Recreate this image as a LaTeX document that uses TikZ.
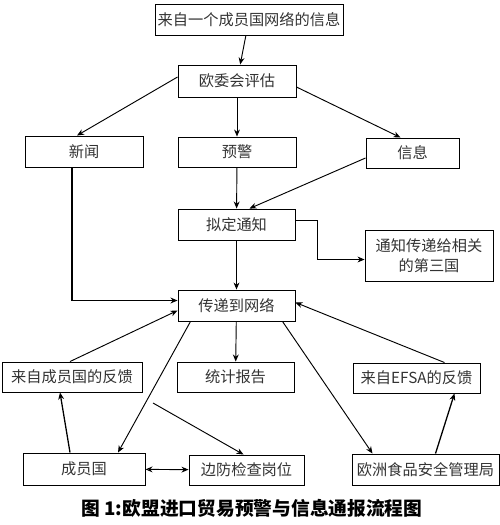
\documentclass[tikz,border=0pt]{standalone}
\usepackage{fontspec}
\setmainfont{Noto Sans CJK SC}
\usepackage{tikz}
\usetikzlibrary{arrows.meta}
\newlength{\unitpx}
\setlength{\unitpx}{0.03cm}

\begin{document}
\begin{tikzpicture}[x=0.03cm, y=-0.03cm,
    box/.style={draw, line width=0.8pt, align=center, inner sep=1pt,
        text=black!80, font=\fontsize{13}{17}\selectfont},
    flow/.style={line width=0.8pt, -{Stealth[length=6pt,width=5pt]}},
    flowb/.style={flow, line width=1.1pt}]
    \useasboundingbox (0,0) rectangle (500,525);

    % 1. The boxes, placed at the centres
    \node[box, minimum width=188\unitpx, minimum height=31\unitpx] (src) at (249,19.5) {来自一个成员国网络的信息};
    \node[box, minimum width=118\unitpx, minimum height=32\unitpx] (eval) at (237,81) {欧委会评估};
    \node[box, minimum width=118\unitpx, minimum height=31\unitpx] (news) at (84,151.5) {新闻};
    \node[box, minimum width=118\unitpx, minimum height=30\unitpx] (alert) at (237,152) {预警};
    \node[box, minimum width=93\unitpx, minimum height=30\unitpx] (info) at (412.5,153) {信息};
    \node[box, minimum width=117\unitpx, minimum height=31\unitpx] (draft) at (236.5,224.5) {拟定通知};
    \node[box, minimum width=128\unitpx, minimum height=51\unitpx] (third) at (429,255.5) {通知传递给相关\\的第三国};
    \node[box, minimum width=117\unitpx, minimum height=31\unitpx] (net) at (236.5,305.5) {传递到网络};
    \node[box, minimum width=140\unitpx, minimum height=30\unitpx] (fbms) at (72,377) {来自成员国的反馈};
    \node[box, minimum width=117\unitpx, minimum height=30\unitpx] (stat) at (235.5,377) {统计报告};
    \node[box, minimum width=127\unitpx, minimum height=30\unitpx] (fbefsa) at (416.5,378) {来自EFSA的反馈};
    \node[box, minimum width=122\unitpx, minimum height=32\unitpx] (ms) at (84,469) {成员国};
    \node[box, minimum width=115\unitpx, minimum height=30\unitpx] (border) at (246.5,470) {边防检查岗位};
    \node[box, minimum width=147\unitpx, minimum height=31\unitpx] (efsa) at (425.5,469.5) {欧洲食品安全管理局};
    \coordinate (bstart) at (153,403);

    % 2. Upper part of the flow
    \draw[flow] (src) -- (eval);
    \draw[flow] ([yshift=4\unitpx]eval.west) -- ([xshift=-7\unitpx]news.north);
    \draw[flow] (eval) -- (alert);
    \draw[flow] ([yshift=-6\unitpx]eval.east) -- ([xshift=-12\unitpx]info.north);
    \draw[flowb] ([xshift=-12\unitpx]news.south) |- ([yshift=5\unitpx]net.west);
    \draw[flow] (alert) -- (draft);
    \draw[flow] ([yshift=-5\unitpx]info.west) -- ([xshift=13\unitpx]draft.north);
    \draw[flow] ([yshift=4\unitpx]draft.east) -- ++(22,0) |- ([yshift=-4\unitpx]third.west);
    \draw[flow] (draft) -- (net);

    % 3. Lower part of the flow
    \draw[flow] ([xshift=-2\unitpx]fbms.north) -- ([yshift=-5\unitpx]net.west);
    \draw[flow] ([xshift=-46\unitpx]net.south) -- ([xshift=34\unitpx]ms.north);
    \draw[flow] (net) -- (stat);
    \draw[flow] ([xshift=46\unitpx]net.south) -- ([xshift=-53\unitpx]efsa.north);
    \draw[flow] ([xshift=28\unitpx]fbefsa.north) -- ([yshift=3\unitpx]net.east);
    \draw[flowb] ([xshift=-14\unitpx]ms.north) -- ([xshift=-12\unitpx]fbms.south);
    \draw[flow] (bstart) -- ([xshift=-3\unitpx]border.north);
    \draw[line width=0.8pt, {Stealth[open,length=6pt,width=5pt]}-{Stealth[length=6pt,width=5pt]}] (ms) -- (border);
    \draw[flowb] ([xshift=10\unitpx]efsa.north) -- ([xshift=38\unitpx]fbefsa.south);

    % 4. Caption
    \node[font=\fontsize{16}{19}\selectfont\bfseries] (cap) at (252,508) {图 1:欧盟进口贸易预警与信息通报流程图};
\end{tikzpicture}
\end{document}
